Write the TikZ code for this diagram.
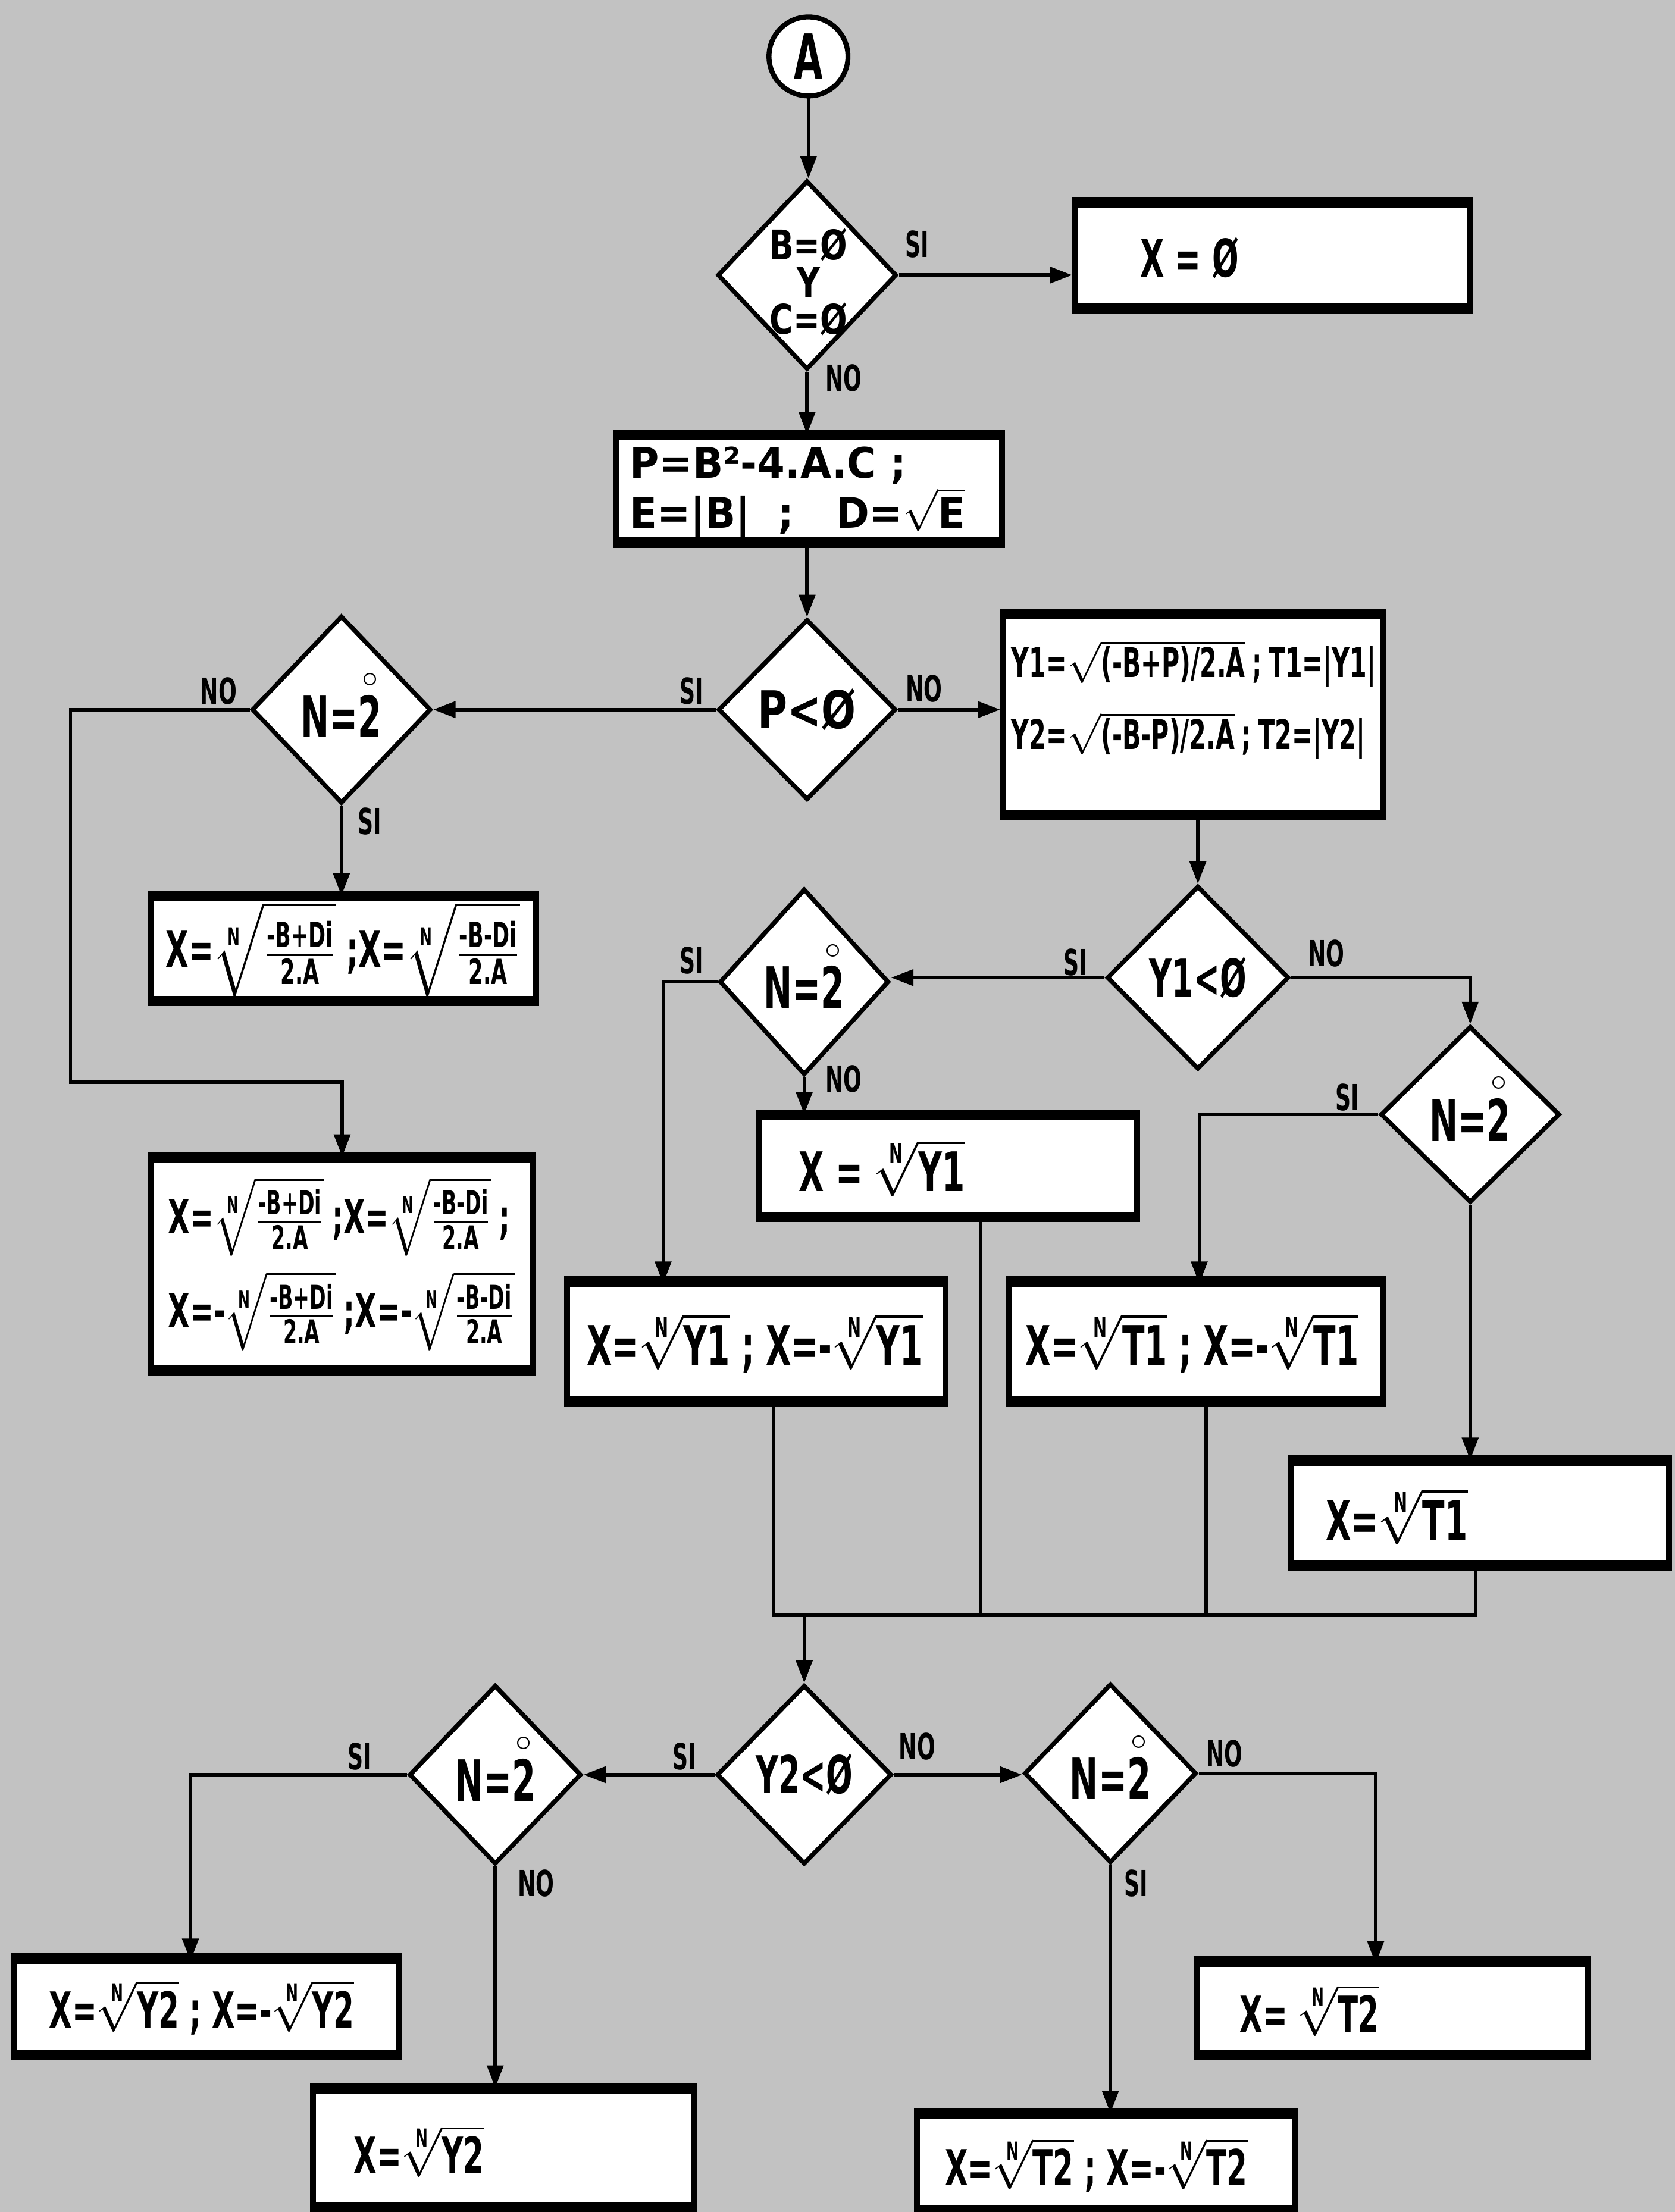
\RequirePackage{fix-cm}
\documentclass[tikz,border=0pt]{standalone}
\usepackage{amsmath}
\usepackage{exscale}
\usepackage{fontspec}
\newfontfamily\hwA{DejaVu Sans}[FakeStretch=0.6]
\newfontfamily\hwB{DejaVu Sans}[FakeStretch=0.78]
\newfontfamily\hwC{DejaVu Sans}[FakeStretch=0.95]
\usetikzlibrary{shapes.geometric,arrows.meta}
\definecolor{bg}{RGB}{194,194,194}
\newcommand{\fsz}[2]{\fontsize{#1}{#2}\selectfont}
\newcommand{\nr}[1]{\ensuremath{\sqrt[\text{N}]{\text{#1}}}}
\newcommand{\nfr}[2]{\ensuremath{\sqrt[\text{N}]{\frac{\text{#1}}{\text{#2}}}}}
\newcommand{\evn}{N=\shortstack{\fsz{13}{13}$\circ$\\2}}
\newcommand{\bxc}[5]{%
  \pgfmathsetmacro\bcx{(#2+#4)/2}\pgfmathsetmacro\bcy{(#3+#5)/2}%
  \pgfmathsetmacro\bw{(#4-#2)*0.02}\pgfmathsetmacro\bh{(#5-#3)*0.02}%
  \node[box, minimum width=\bw cm, minimum height=\bh cm] (#1) at (\bcx,\bcy) {};
  \draw[line width=3.6pt] (#1.north west) -- (#1.north east) (#1.south west) -- (#1.south east);}
\newcommand{\dmd}[5]{%
  \pgfmathsetmacro\bw{#4*0.02}\pgfmathsetmacro\bh{#5*0.02}%
  \node[dia, minimum width=\bw cm, minimum height=\bh cm] (#1) at (#2,#3) {};}
\tikzset{
  box/.style={draw, fill=white, line width=2.4pt, rectangle, inner sep=0pt},
  dia/.style={draw, fill=white, line width=1.8pt, diamond, inner sep=0pt},
  conn/.style={line width=1.4pt, -{Triangle[length=9pt,width=6.5pt]}},
  plain/.style={line width=1.4pt},
  lbl/.style={font=\hwA\bfseries\fsz{14.5}{15}, inner sep=0pt},
  txt/.style={inner sep=0pt, align=left},
}
\begin{document}
\begin{tikzpicture}[x=0.02cm,y=-0.02cm]
\fill[bg] (0,0) rectangle (1187,1568);
\useasboundingbox (0,0) rectangle (1187,1568);

% start connector
\node[draw, fill=white, circle, line width=2pt, minimum size=1.12cm, inner sep=0pt,
      font=\hwA\bfseries\fsz{25}{25}] (A) at (573,40) {A};

% shapes
\dmd{d1}{572}{195}{127}{134}
\bxc{x0}{762}{145}{1042}{217}
\bxc{bp}{437}{310}{710}{383}
\dmd{dp}{572}{503}{126}{128}
\dmd{dn1}{242}{503}{127}{133}
\bxc{by}{711}{437}{980}{576}
\bxc{b2}{107}{637}{380}{708}
\bxc{b4}{107}{822}{378}{970}
\dmd{dy1}{849}{693}{129}{130}
\dmd{dn2}{570}{696}{120}{132}
\dmd{dn3}{1042}{790}{127}{125}
\bxc{bxy1}{538}{792}{806}{861}
\bxc{by1p}{402}{910}{670}{992}
\bxc{bt1p}{715}{910}{980}{992}
\bxc{bxt1}{915}{1037}{1183}{1108}
\dmd{dy2}{570}{1258}{124}{127}
\dmd{dn4}{351}{1258}{122}{127}
\dmd{dn5}{787}{1257}{122}{127}
\bxc{by2p}{10}{1390}{283}{1455}
\bxc{bxy2}{222}{1482}{492}{1563}
\bxc{bxt2}{848}{1392}{1125}{1455}
\bxc{bt2p}{650}{1500}{918}{1565}

% texts
\node[txt, font=\hwA\bfseries\fsz{21}{24}] (tx0) at (843,183) {X = Ø};
\node[txt, align=center, font=\hwB\bfseries\fsz{16.5}{15}] (td1) at (573,200) {B=Ø\\Y\\C=Ø};
\node[txt, anchor=west, font=\hwC\bfseries\fsz{17}{20}] (tbp) at (446,349)
  {P=B²-4.A.C ;\\E=|B| ~; ~~D=$\sqrt{\text{E}}$};
\node[txt, font=\hwB\bfseries\fsz{21}{24}] (tdp) at (572,503) {P<Ø};
\node[txt, font=\hwA\bfseries\fsz{23}{24}] (tdn1) at (242,500) {\evn};
\node[txt, font=\hwA\bfseries\fsz{16.5}{29}] (tby) at (846,496)
  {Y1=$\sqrt{\text{(-B+P)/2.A}}$\,;\,T1=|Y1|\\Y2=$\sqrt{\text{(-B-P)/2.A}}$\,;\,T2=|Y2|};
\node[txt, font=\hwA\bfseries\fsz{20}{20}] (tb2) at (243,673)
  {X=\nfr{-B+Di}{2.A} ;X=\nfr{-B-Di}{2.A}};
\node[txt, font=\hwA\bfseries\fsz{19}{38}] (tb4) at (242,896)
  {X=\nfr{-B+Di}{2.A}\,;X=\nfr{-B-Di}{2.A}\,;\\X=-\nfr{-B+Di}{2.A}\,;X=-\nfr{-B-Di}{2.A}};
\node[txt, font=\hwA\bfseries\fsz{21}{24}] (tdy1) at (849,693) {Y1<Ø};
\node[txt, font=\hwA\bfseries\fsz{23}{24}] (tdn2) at (570,692) {\evn};
\node[txt, font=\hwA\bfseries\fsz{23}{24}] (tdn3) at (1042,786) {\evn};
\node[txt, font=\hwA\bfseries\fsz{22}{24}] (tbxy1) at (625,828) {X = \nr{Y1}};
\node[txt, font=\hwA\bfseries\fsz{22}{24}] (tby1p) at (535,952) {X=\nr{Y1} ; X=-\nr{Y1}};
\node[txt, font=\hwA\bfseries\fsz{22}{24}] (tbt1p) at (845,952) {X=\nr{T1} ; X=-\nr{T1}};
\node[txt, font=\hwA\bfseries\fsz{22}{24}] (tbxt1) at (990,1075) {X=\nr{T1}};
\node[txt, font=\hwA\bfseries\fsz{21}{24}] (tdy2) at (570,1258) {Y2<Ø};
\node[txt, font=\hwA\bfseries\fsz{23}{24}] (tdn4) at (351,1254) {\evn};
\node[txt, font=\hwA\bfseries\fsz{23}{24}] (tdn5) at (787,1253) {\evn};
\node[txt, font=\hwA\bfseries\fsz{20}{24}] (tby2p) at (143,1423) {X=\nr{Y2} ; X=-\nr{Y2}};
\node[txt, font=\hwA\bfseries\fsz{20}{24}] (tbxy2) at (297,1525) {X=\nr{Y2}};
\node[txt, font=\hwA\bfseries\fsz{20}{24}] (tbxt2) at (928,1425) {X= \nr{T2}};
\node[txt, font=\hwA\bfseries\fsz{20}{24}] (tbt2p) at (777,1535) {X=\nr{T2} ; X=-\nr{T2}};

% labels
\node[lbl] (l1) at (650,173) {SI};
\node[lbl] (l2) at (598,268) {NO};
\node[lbl] (l3) at (490,490) {SI};
\node[lbl] (l4) at (655,488) {NO};
\node[lbl] (l5) at (155,490) {NO};
\node[lbl] (l6) at (262,582) {SI};
\node[lbl] (l7) at (762,682) {SI};
\node[lbl] (l8) at (940,676) {NO};
\node[lbl] (l9) at (490,681) {SI};
\node[lbl] (l10) at (598,765) {NO};
\node[lbl] (l11) at (955,778) {SI};
\node[lbl] (l12) at (485,1245) {SI};
\node[lbl] (l13) at (650,1238) {NO};
\node[lbl] (l14) at (255,1245) {SI};
\node[lbl] (l15) at (380,1335) {NO};
\node[lbl] (l16) at (868,1243) {NO};
\node[lbl] (l17) at (805,1335) {SI};

% coordinates
\coordinate (c1) at (50,767);
\coordinate (k1) at (470,910);
\coordinate (k2) at (850,910);
\coordinate (m1) at (548,1145);
\coordinate (m2) at (695,1145);
\coordinate (m3) at (855,1145);
\coordinate (m4) at (1046,1145);
\coordinate (k3) at (135,1390);
\coordinate (k4) at (975,1392);

% connectors
\draw[conn] (A.south) -- (A.south |- d1.north);
\draw[conn] (d1.east) -- (d1.east -| x0.west);
\draw[conn] (d1.south) -- (d1.south |- bp.north);
\draw[conn] (dp.north |- bp.south) -- (dp.north);
\draw[conn] (dp.west) -- (dn1.east);
\draw[conn] (dp.east) -- (dp.east -| by.west);
\draw[conn] (dn1.west) -| (c1) -| (b4.north);
\draw[conn] (dn1.south) -- (dn1.south |- b2.north);
\draw[conn] (dy1.north |- by.south) -- (dy1.north);
\draw[conn] (dy1.west) -- (dy1.west -| dn2.east);
\draw[conn] (dy1.east) -| (dn3.north);
\draw[conn] (dn2.west) -| (k1);
\draw[conn] (dn2.south) -- (dn2.south |- bxy1.north);
\draw[conn] (dn3.west) -| (k2);
\draw[conn] (dn3.south) -- (dn3.south |- bxt1.north);
\draw[plain] (by1p.south -| m1) -- (m1) -- (m4) -- (bxt1.south -| m4);
\draw[plain] (bxy1.south -| m2) -- (m2);
\draw[plain] (bt1p.south -| m3) -- (m3);
\draw[conn] (dy2.north |- m1) -- (dy2.north);
\draw[conn] (dy2.west) -- (dy2.west -| dn4.east);
\draw[conn] (dy2.east) -- (dy2.east -| dn5.west);
\draw[conn] (dn4.west) -| (k3);
\draw[conn] (dn4.south) -- (dn4.south |- bxy2.north);
\draw[conn] (dn5.east) -| (k4);
\draw[conn] (dn5.south) -- (dn5.south |- bt2p.north);
\end{tikzpicture}
\end{document}
